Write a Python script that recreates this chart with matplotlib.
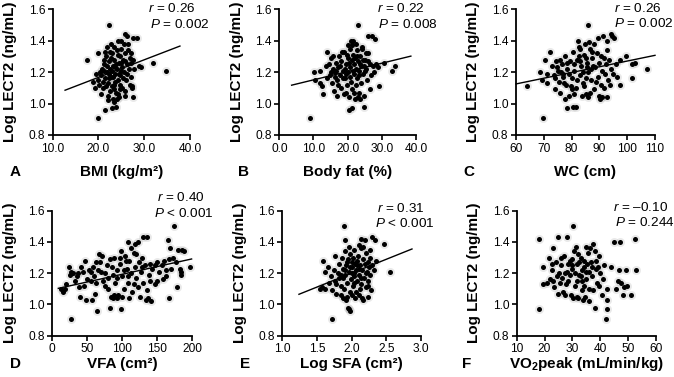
import matplotlib
matplotlib.use('Agg')
import matplotlib.pyplot as plt

plt.rcParams['font.family'] = ['Liberation Sans', 'DejaVu Sans']
plt.rcParams['mathtext.fontset'] = 'custom'
plt.rcParams['mathtext.rm'] = 'Liberation Sans'
plt.rcParams['mathtext.it'] = 'Liberation Sans:italic'
plt.rcParams['mathtext.bf'] = 'Liberation Sans:bold'

# ---------------- data ----------------
bmi_points = [
    (17.6, 1.28), (19.8, 1.32), (22.4, 1.50), (20.0, 0.91), (21.4, 0.96), (22.9, 0.97), (23.8, 0.98),
    (32.0, 1.26), (34.7, 1.21), (28.9, 1.24), (29.2, 1.23), (27.6, 1.42), (28.5, 1.42), (25.8, 1.44),
    (26.2, 1.43), (24.3, 1.40), (24.9, 1.40), (27.5, 1.04), (25.8, 1.05), (27.4, 1.11), (21.8, 1.36),
    (19.5, 1.19), (19.8, 1.15), (20.2, 1.12), (20.5, 1.18), (20.8, 1.22), (21.0, 1.10), (21.2, 1.25),
    (21.5, 1.16), (21.6, 1.30), (21.8, 1.20), (22.0, 1.05), (22.1, 1.13), (22.3, 1.27), (22.5, 1.22),
    (22.6, 1.08), (22.8, 1.17), (23.0, 1.32), (23.1, 1.24), (23.2, 1.03), (23.4, 1.12), (23.5, 1.28),
    (23.6, 1.19), (23.8, 1.07), (24.0, 1.34), (24.1, 1.22), (24.2, 1.15), (24.4, 1.26), (24.5, 1.04),
    (24.6, 1.30), (24.8, 1.18), (25.0, 1.35), (25.1, 1.23), (25.2, 1.10), (25.4, 1.28), (25.6, 1.20),
    (25.8, 1.32), (26.0, 1.15), (26.2, 1.25), (26.4, 1.38), (26.6, 1.22), (26.8, 1.29), (27.0, 1.17),
    (27.2, 1.26), (27.5, 1.28), (27.8, 1.22), (20.3, 1.20), (20.9, 1.14), (21.3, 1.21), (21.7, 1.11),
    (22.2, 1.19), (22.7, 1.29), (23.3, 1.09), (23.7, 1.14), (24.3, 1.06), (24.7, 1.12), (25.3, 1.16),
    (25.7, 1.27), (26.3, 1.19), (23.0, 1.21), (22.4, 1.16), (21.9, 1.24), (23.9, 1.25), (24.9, 1.21),
    (22.0, 1.02), (23.5, 1.01), (24.0, 1.03), (22.6, 1.33), (23.4, 1.36), (25.5, 1.38), (26.9, 1.12),
    (27.3, 1.10), (18.8, 1.14), (19.2, 1.10), (20.6, 1.06), (21.1, 1.28), (22.8, 1.38), (24.6, 1.09),
    (25.9, 1.08), (23.2, 1.17), (24.2, 1.31), (21.4, 1.33), (26.5, 1.34), (27.1, 1.32), (22.9, 1.11),
    (23.6, 1.23), (24.4, 1.19), (25.0, 1.26),
]
bmi_fit_x = [12.7, 37.8]
bmi_fit_y = [1.085, 1.366]

fat_points = [
    (9.0, 0.91), (23.1, 1.50), (32.9, 1.21), (33.9, 1.24), (30.7, 1.26), (29.2, 1.11), (24.8, 0.98),
    (20.5, 0.96), (21.2, 0.97), (10.2, 1.20), (10.4, 1.15), (11.9, 1.21), (12.4, 1.11), (12.9, 1.06),
    (14.1, 1.33), (25.9, 1.43), (27.1, 1.43), (27.9, 1.41), (20.9, 1.40), (21.7, 1.40), (22.5, 1.38),
    (14.5, 1.25), (14.8, 1.18), (15.0, 1.29), (15.3, 1.13), (15.6, 1.22), (15.8, 1.30), (16.0, 1.08),
    (16.2, 1.20), (16.5, 1.26), (16.8, 1.15), (17.0, 1.05), (17.2, 1.23), (17.5, 1.30), (17.8, 1.18),
    (18.0, 1.10), (18.2, 1.27), (18.5, 1.21), (18.8, 1.06), (19.0, 1.33), (19.2, 1.16), (19.5, 1.25),
    (19.8, 1.12), (20.0, 1.29), (20.2, 1.20), (20.4, 1.04), (20.6, 1.35), (20.8, 1.23), (21.0, 1.14),
    (21.2, 1.28), (21.4, 1.09), (21.6, 1.31), (21.8, 1.19), (22.0, 1.25), (22.2, 1.03), (22.4, 1.22),
    (22.6, 1.34), (22.8, 1.16), (23.0, 1.27), (23.2, 1.07), (23.4, 1.21), (23.6, 1.30), (23.8, 1.13),
    (24.0, 1.24), (24.3, 1.36), (24.6, 1.19), (24.9, 1.05), (25.2, 1.28), (25.5, 1.22), (25.8, 1.15),
    (26.1, 1.32), (26.5, 1.25), (26.9, 1.18), (27.3, 1.24), (27.8, 1.20), (28.3, 1.25), (28.8, 1.23),
    (17.3, 1.12), (18.6, 1.16), (19.6, 1.19), (20.3, 1.26), (21.5, 1.21), (22.3, 1.12), (23.3, 1.18),
    (24.4, 1.28), (25.0, 1.21), (23.0, 1.04), (23.7, 1.03), (21.9, 1.07), (19.4, 1.07), (16.4, 1.17),
    (15.2, 1.20), (13.6, 1.24), (14.0, 1.16), (12.0, 1.13), (22.8, 1.30), (24.1, 1.35), (20.0, 1.37),
    (21.3, 1.37), (25.4, 1.32), (26.4, 1.09), (18.4, 1.33), (17.9, 1.24), (19.1, 1.22), (20.7, 1.17),
    (22.1, 1.29), (23.5, 1.25), (24.7, 1.24), (26.0, 1.27), (16.7, 1.21), (19.9, 1.31),
]
fat_fit_x = [3.6, 38.5]
fat_fit_y = [1.117, 1.302]

wc_points = [
    (69.6, 0.91), (64.1, 1.11), (86.0, 1.50), (78.5, 0.97), (80.4, 0.98), (81.6, 0.98), (107.0, 1.22),
    (101.8, 1.25), (102.8, 1.26), (101.6, 1.16), (99.6, 1.30), (97.4, 1.28), (94.6, 1.43), (95.2, 1.42),
    (94.0, 1.44), (92.6, 1.40), (89.6, 1.42), (91.3, 1.43), (93.8, 1.12), (96.2, 1.17), (97.4, 1.12),
    (92.6, 1.04), (90.8, 1.04), (90.2, 1.03), (68.6, 1.20), (69.2, 1.15), (70.4, 1.28), (72.2, 1.33),
    (71.3, 1.13), (71.0, 1.19), (73.0, 1.24), (73.5, 1.18), (74.0, 1.09), (74.5, 1.27), (75.0, 1.21),
    (75.5, 1.14), (76.0, 1.07), (76.5, 1.25), (77.0, 1.19), (77.5, 1.30), (78.0, 1.12), (78.5, 1.22),
    (79.0, 1.05), (79.5, 1.27), (80.0, 1.16), (80.5, 1.33), (81.0, 1.21), (81.5, 1.10), (82.0, 1.28),
    (82.5, 1.36), (83.0, 1.18), (83.5, 1.24), (84.0, 1.13), (84.5, 1.31), (85.0, 1.06), (85.5, 1.26),
    (86.0, 1.20), (86.5, 1.35), (87.0, 1.15), (87.5, 1.29), (88.0, 1.09), (88.5, 1.23), (89.0, 1.32),
    (89.5, 1.17), (90.0, 1.26), (90.5, 1.12), (91.0, 1.21), (91.5, 1.29), (92.0, 1.19), (92.5, 1.25),
    (93.0, 1.15), (93.5, 1.28), (94.0, 1.22), (95.0, 1.19), (96.0, 1.25), (82.2, 1.40), (84.8, 1.38),
    (86.2, 1.39), (83.8, 1.05), (85.8, 1.04), (86.5, 1.07), (81.0, 1.06), (79.8, 1.11), (77.8, 1.03),
    (76.8, 1.17), (75.8, 1.28), (74.8, 1.23), (80.8, 1.25), (82.8, 1.30), (84.2, 1.20), (85.2, 1.16),
    (87.8, 1.24), (88.8, 1.14), (89.8, 1.05), (91.8, 1.10), (88.0, 1.38), (87.2, 1.33), (83.2, 1.27),
    (81.8, 1.15), (79.2, 1.19), (78.2, 1.26), (76.2, 1.20), (85.0, 1.29), (86.8, 1.22), (90.4, 1.30),
    (92.8, 1.34), (84.6, 1.11), (80.2, 1.09), (77.2, 1.13), (74.2, 1.16), (83.0, 1.35), (85.4, 1.23),
]
wc_fit_x = [60.0, 110.0]
wc_fit_y = [1.125, 1.307]

vfa_points = [
    (26.7, 0.91), (174.3, 1.50), (64.3, 0.96), (82.4, 0.98), (97.6, 0.97), (167.0, 1.04), (183.3, 1.19),
    (183.5, 1.21), (183.0, 1.23), (196.7, 1.24), (180.0, 1.35), (184.8, 1.35), (188.6, 1.34), (165.7, 1.41),
    (168.0, 1.36), (177.6, 1.11), (158.6, 1.16), (161.9, 1.18), (150.0, 1.15), (133.8, 1.03), (137.0, 1.04),
    (140.5, 1.02), (125.0, 1.05), (134.8, 1.43), (129.0, 1.43), (118.0, 1.39), (122.9, 1.40), (108.6, 1.40),
    (15.7, 1.08), (18.0, 1.10), (23.8, 1.24), (26.2, 1.21), (25.2, 1.19), (34.8, 1.18), (41.0, 1.24),
    (46.7, 1.28), (38.0, 1.11), (39.5, 1.05), (48.0, 1.03), (56.2, 1.03), (61.0, 1.07), (66.7, 1.32),
    (70.5, 1.31), (12.0, 1.10), (20.0, 1.13), (30.0, 1.20), (33.0, 1.15), (44.0, 1.21), (50.0, 1.16),
    (52.0, 1.22), (55.0, 1.15), (58.0, 1.24), (60.0, 1.18), (62.0, 1.14), (65.0, 1.22), (68.0, 1.27),
    (72.0, 1.15), (75.0, 1.20), (78.0, 1.25), (80.0, 1.10), (82.0, 1.29), (84.0, 1.05), (86.0, 1.19),
    (88.0, 1.30), (90.0, 1.14), (92.0, 1.22), (94.0, 1.06), (96.0, 1.26), (98.0, 1.34), (100.0, 1.18),
    (102.0, 1.10), (104.0, 1.31), (106.0, 1.23), (108.0, 1.14), (110.0, 1.28), (112.0, 1.20), (114.0, 1.08),
    (116.0, 1.33), (118.0, 1.24), (120.0, 1.17), (122.0, 1.11), (124.0, 1.27), (126.0, 1.21), (128.0, 1.30),
    (130.0, 1.14), (132.0, 1.25), (135.0, 1.09), (138.0, 1.19), (140.0, 1.26), (143.0, 1.23), (146.0, 1.13),
    (150.0, 1.27), (153.0, 1.21), (156.0, 1.25), (160.0, 1.28), (163.0, 1.22), (166.0, 1.29), (170.0, 1.23),
    (173.0, 1.30), (176.0, 1.27), (86.0, 1.04), (88.5, 1.06), (92.0, 1.04), (100.0, 1.05), (105.0, 1.28),
    (112.0, 1.36), (96.0, 1.30), (85.0, 1.24), (75.0, 1.12), (70.0, 1.21), (62.0, 1.27), (55.0, 1.21),
    (45.0, 1.12), (36.0, 1.20), (108.0, 1.18), (116.0, 1.13), (120.0, 1.32), (128.0, 1.24), (140.0, 1.15),
    (146.0, 1.25), (110.0, 1.04), (102.0, 1.22), (93.0, 1.17), (79.0, 1.17),
]
vfa_fit_x = [8.6, 199.0]
vfa_fit_y = [1.103, 1.291]

sfa_points = [
    (1.71, 0.91), (1.89, 1.50), (1.96, 0.97), (1.98, 0.96), (1.95, 0.98), (2.56, 1.21), (2.46, 1.39),
    (1.59, 1.28), (1.62, 1.21), (1.57, 1.11), (1.61, 1.10), (1.54, 1.10), (1.76, 1.31), (1.91, 1.41),
    (2.14, 1.42), (2.19, 1.41), (2.29, 1.43), (2.34, 1.41), (2.27, 1.35), (1.66, 1.24), (1.68, 1.14),
    (1.70, 1.18), (1.72, 1.09), (1.74, 1.22), (1.76, 1.15), (1.78, 1.07), (1.80, 1.20), (1.82, 1.26),
    (1.84, 1.12), (1.85, 1.06), (1.86, 1.30), (1.87, 1.17), (1.88, 1.23), (1.89, 1.10), (1.90, 1.34),
    (1.91, 1.19), (1.92, 1.25), (1.93, 1.05), (1.94, 1.14), (1.95, 1.29), (1.96, 1.21), (1.97, 1.08),
    (1.98, 1.32), (1.99, 1.16), (2.00, 1.24), (2.01, 1.27), (2.02, 1.12), (2.03, 1.20), (2.04, 1.35),
    (2.05, 1.04), (2.06, 1.22), (2.07, 1.28), (2.08, 1.15), (2.09, 1.31), (2.10, 1.19), (2.11, 1.06),
    (2.12, 1.25), (2.13, 1.36), (2.14, 1.13), (2.15, 1.22), (2.16, 1.29), (2.17, 1.03), (2.18, 1.17),
    (2.19, 1.26), (2.20, 1.33), (2.21, 1.11), (2.22, 1.21), (2.23, 1.27), (2.24, 1.15), (2.25, 1.24),
    (2.26, 1.30), (2.27, 1.19), (2.28, 1.09), (2.30, 1.25), (2.32, 1.22), (2.35, 1.28), (1.98, 1.24),
    (2.02, 1.30), (2.04, 1.18), (1.94, 1.27), (2.08, 1.25), (2.12, 1.10), (2.06, 1.08), (1.88, 1.04),
    (1.92, 1.03), (1.82, 1.17), (1.78, 1.13), (2.00, 1.06), (2.15, 1.04), (2.24, 1.05), (2.10, 1.38),
    (2.16, 1.37), (1.96, 1.37), (2.05, 1.26), (2.00, 1.20), (2.10, 1.23), (2.20, 1.20), (1.90, 1.22),
    (2.03, 1.14), (2.13, 1.17), (2.23, 1.12), (1.85, 1.19),
]
sfa_fit_x = [1.24, 2.87]
sfa_fit_y = [1.065, 1.355]

vo2_points = [
    (18.0, 1.42), (18.0, 0.97), (19.6, 1.24), (19.6, 1.13), (42.0, 0.91), (42.5, 0.97), (42.5, 1.03),
    (30.3, 1.50), (44.9, 1.40), (47.1, 1.40), (52.3, 1.42), (53.0, 1.22), (46.8, 1.22), (49.4, 1.22),
    (51.0, 1.06), (48.0, 1.06), (47.5, 1.14), (48.5, 1.11), (49.5, 1.12), (45.5, 1.10), (46.5, 1.15),
    (44.0, 1.24), (42.5, 1.10), (21.5, 1.30), (22.0, 1.16), (22.5, 1.22), (23.0, 1.36), (23.5, 1.11),
    (24.0, 1.27), (24.5, 1.18), (25.0, 1.43), (25.5, 1.14), (26.0, 1.25), (26.5, 1.08), (27.0, 1.31),
    (27.5, 1.20), (28.0, 1.43), (28.5, 1.15), (29.0, 1.28), (29.5, 1.06), (30.0, 1.23), (30.5, 1.34),
    (31.0, 1.12), (31.5, 1.26), (32.0, 1.04), (32.5, 1.19), (33.0, 1.30), (33.5, 1.15), (34.0, 1.24),
    (34.5, 1.05), (35.0, 1.21), (35.5, 1.33), (36.0, 1.10), (36.5, 1.27), (37.0, 1.18), (37.5, 1.39),
    (38.0, 0.98), (38.5, 1.23), (39.0, 1.14), (39.5, 1.31), (40.0, 1.20), (40.5, 1.06), (41.0, 1.16),
    (25.2, 1.20), (26.3, 1.17), (27.2, 1.06), (28.3, 1.26), (29.3, 1.19), (30.3, 1.04), (31.3, 1.37),
    (32.3, 1.27), (33.3, 1.22), (34.3, 1.12), (35.3, 1.26), (36.3, 1.36), (37.3, 1.09), (38.3, 1.28),
    (39.3, 1.24), (33.8, 1.03), (31.8, 1.05), (35.8, 1.02), (29.8, 1.25), (27.8, 1.13), (24.8, 1.07),
    (23.2, 1.15), (22.8, 1.26), (20.8, 1.14), (31.0, 1.20), (33.0, 1.18), (35.0, 1.16), (37.0, 1.24),
    (30.0, 1.29), (32.0, 1.32), (34.0, 1.28), (28.0, 1.21), (26.0, 1.30), (38.0, 1.34), (36.0, 1.21),
    (39.5, 1.12), (41.5, 1.25), (34.8, 1.37), (31.5, 1.15), (33.5, 1.09),
]

y_ticks = [0.8, 1.0, 1.2, 1.4, 1.6]
ylabel_text = 'Log LECT2 (ng/mL)'

panels = [
    dict(letter='A', pts=bmi_points, fit=(bmi_fit_x, bmi_fit_y), xlim=(10, 40), xticks=[10, 20, 30, 40], fmt='{:.1f}',
         xlabel='BMI (kg/m\u00b2)', r='0.26', p='= 0.002', rect=(52.7, 9.3, 190.0, 135.0),
         rpos=(148, 8.5), ppos=(150, 24), lpos=(10, 172)),
    dict(letter='B', pts=fat_points, fit=(fat_fit_x, fat_fit_y), xlim=(0, 40), xticks=[0, 10, 20, 30, 40], fmt='{:.1f}',
         xlabel='Body fat (%)', r='0.22', p='= 0.008', rect=(279.3, 9.3, 416.0, 135.0),
         rpos=(377, 8.5), ppos=(378, 24), lpos=(238, 172)),
    dict(letter='C', pts=wc_points, fit=(wc_fit_x, wc_fit_y), xlim=(60, 110), xticks=[60, 70, 80, 90, 100, 110], fmt='{:.0f}',
         xlabel='WC (cm)', r='0.26', p='= 0.002', rect=(516.0, 9.3, 655.0, 135.0),
         rpos=(614, 8), ppos=(614, 23.5), lpos=(463, 172)),
    dict(letter='D', pts=vfa_points, fit=(vfa_fit_x, vfa_fit_y), xlim=(0, 200), xticks=[0, 50, 100, 150, 200], fmt='{:.0f}',
         xlabel='VFA (cm\u00b2)', r='0.40', p='< 0.001', rect=(52.3, 210.7, 192.3, 335.7),
         rpos=(157, 197.5), ppos=(154, 214), lpos=(10, 364)),
    dict(letter='E', pts=sfa_points, fit=(sfa_fit_x, sfa_fit_y), xlim=(1.0, 3.0), xticks=[1.0, 1.5, 2.0, 2.5, 3.0], fmt='{:.1f}',
         xlabel='Log SFA (cm\u00b2)', r='0.31', p='< 0.001', rect=(282.3, 210.7, 421.0, 335.7),
         rpos=(377, 208), ppos=(375, 223.5), lpos=(240, 364)),
    dict(letter='F', pts=vo2_points, fit=None, xlim=(10, 60), xticks=[10, 20, 30, 40, 50, 60], fmt='{:.0f}',
         xlabel='VO$_\\mathbf{2}$peak (mL/min/kg)', r='\u20130.10', p='= 0.244', rect=(516.7, 210.7, 656.0, 335.7),
         rpos=(613, 207), ppos=(615, 222), lpos=(462, 364)),
]

W, H = 674, 377
fig = plt.figure(figsize=(W / 100, H / 100), dpi=100)

for pnl in panels:
    x0, y0, x1, y1 = pnl['rect']
    ax = fig.add_axes([x0 / W, 1 - y1 / H, (x1 - x0) / W, (y1 - y0) / H])
    xs = [p[0] for p in pnl['pts']]
    ys = [p[1] for p in pnl['pts']]
    ax.scatter(xs, ys, s=42, color='#888888', alpha=0.18, linewidths=0, zorder=2, clip_on=False)
    ax.scatter(xs, ys, s=13, color='black', linewidths=0, zorder=3, clip_on=False)
    if pnl['fit'] is not None:
        ax.plot(pnl['fit'][0], pnl['fit'][1], color='black', lw=1.0, zorder=4, clip_on=False)
    ax.set_xlim(*pnl['xlim'])
    ax.set_ylim(0.8, 1.6)
    ax.set_xticks(pnl['xticks'])
    ax.set_xticklabels([pnl['fmt'].format(v) for v in pnl['xticks']])
    ax.set_yticks(y_ticks)
    ax.set_yticklabels(['{:.1f}'.format(v) for v in y_ticks])
    for side in ('top', 'right'):
        ax.spines[side].set_visible(False)
    for side in ('left', 'bottom'):
        ax.spines[side].set_linewidth(1.3)
    ax.tick_params(direction='out', length=3.5, width=1.2, labelsize=8.6, pad=2)
    ax.set_ylabel(ylabel_text, fontsize=11, fontweight='bold')
    ax.yaxis.label.set_va('center')
    ax.yaxis.set_label_coords((10 - x0) / (x1 - x0) if x0 < 100 else (x0 - 42.5 - x0) / (x1 - x0), 0.5)
    ax.set_xlabel(pnl['xlabel'], fontsize=11, fontweight='bold')
    ax.xaxis.label.set_va('center')
    ax.xaxis.set_label_coords(0.5, -(pnl['lpos'][1] - y1) / (y1 - y0))
    fig.text(pnl['rpos'][0] / W, 1 - pnl['rpos'][1] / H, '$\\mathit{r}$ = ' + pnl['r'],
             fontsize=9.7, ha='left', va='center')
    fig.text(pnl['ppos'][0] / W, 1 - pnl['ppos'][1] / H, '$\\mathit{P}$ ' + pnl['p'],
             fontsize=9.7, ha='left', va='center')
    fig.text(pnl['lpos'][0] / W, 1 - pnl['lpos'][1] / H, pnl['letter'],
             fontsize=11, fontweight='bold', ha='left', va='center')

fig.savefig('out.png', dpi=100)
